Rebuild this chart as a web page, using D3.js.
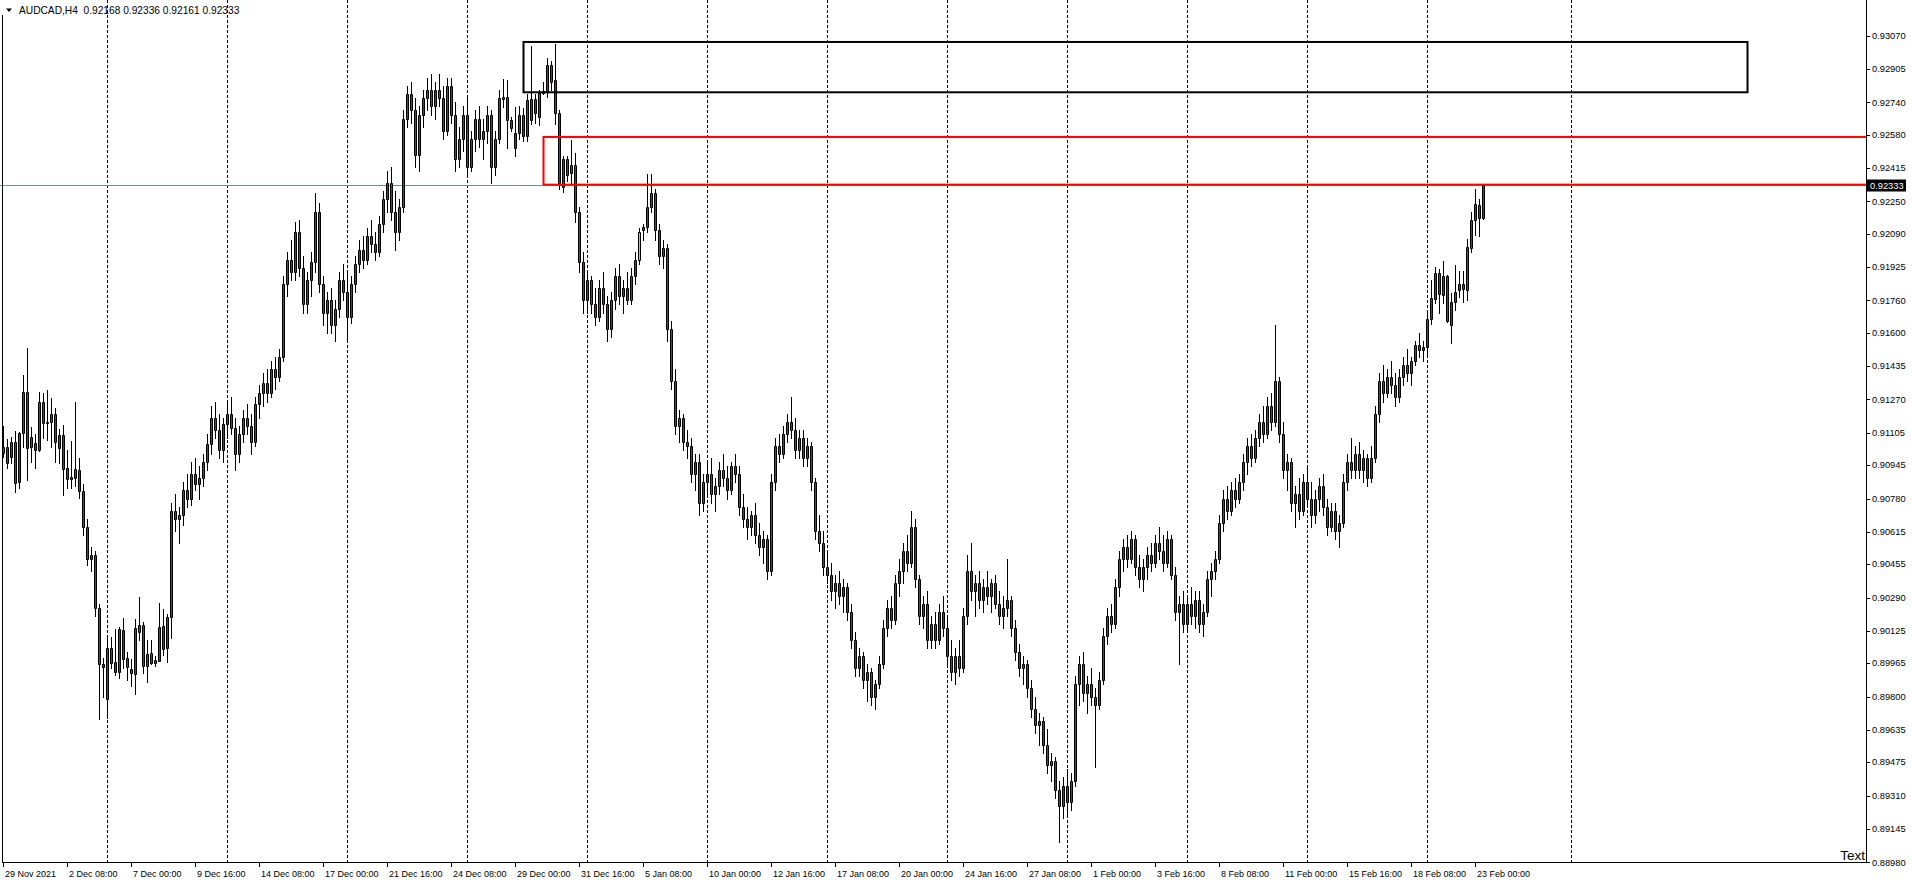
<!DOCTYPE html>
<html><head><meta charset="utf-8">
<script src="https://cdn.jsdelivr.net/npm/d3@7"></script>
<style>body{margin:0;background:#fff}svg{display:block}text{font-family:"Liberation Sans",Arial,sans-serif}</style>
</head><body><svg id="c" width="1912" height="885"></svg>
<script>
// ---- data (prices in points: 91035 = 0.91035) ----
const symbolName = "AUDCAD,H4";
const lastQuote = ["0.92168", "0.92336", "0.92161", "0.92333"];
const bidPrice = 92333;
const priceTicks = [93070,92905,92740,92580,92415,92250,92090,91925,91760,91600,91435,91270,91105,90945,90780,90615,90455,90290,90125,89965,89800,89635,89475,89310,89145,88980];
const timeLabels = ["29 Nov 2021","2 Dec 08:00","7 Dec 00:00","9 Dec 16:00","14 Dec 08:00","17 Dec 00:00","21 Dec 16:00","24 Dec 08:00","29 Dec 00:00","31 Dec 16:00","5 Jan 08:00","10 Jan 00:00","12 Jan 16:00","17 Jan 08:00","20 Jan 00:00","24 Jan 16:00","27 Jan 08:00","1 Feb 00:00","3 Feb 16:00","8 Feb 08:00","11 Feb 00:00","15 Feb 16:00","18 Feb 08:00","23 Feb 00:00"];
const weekSeparators = [26,56,86,116,146,176,206,236,266,296,326,356,392];
const highlightedBars = [159];
// rectangles: [startBar, endBar, high, low]
const blackZone = [130, 436, 93039, 92790];
const redZone = [135, 480, 92569, 92333];

// bars [open, high, low, close]
const week1 = [[91005,91140,90985,91035],[91036,91075,90932,90957],[90987,91086,90956,91061],[91061,91116,90814,90858],[90863,91110,90830,91106],[91106,91391,91036,91309],[91309,91525,90870,91030],[91035,91134,90962,91086],[91055,91100,90932,91020],[91020,91309,91017,91258],[91258,91304,91078,91155],[91155,91317,91070,91160],[91160,91277,91036,91198],[91198,91230,90960,91061],[91028,91124,90956,91094],[91094,91144,90798,90926],[90930,91020,90832,90875],[90875,91064,90832,90888],[90882,91258,90840,90926],[90921,90981,90784,90819],[90819,90850,90600,90640],[90640,90680,90450,90480],[90480,90540,90420,90500],[90500,90520,90200,90240],[90240,90260,89690,89960],[89960,89990,89800,89945]];
const week2 = [[89790,90095,89694,90039],[90039,90095,89940,89968],[89970,90134,89907,89923],[89923,90146,89890,90134],[90129,90189,89940,89986],[89990,90022,89882,89948],[89936,89986,89852,89915],[89912,90184,89813,90138],[90121,90294,90080,90154],[90154,90170,89918,89951],[89951,90080,89873,90009],[90014,90080,89960,89965],[89968,90000,89950,89981],[89978,90262,89975,90143],[90149,90232,90006,90034],[90039,90209,89972,90192],[90192,90760,90090,90720],[90720,90800,90620,90680],[90680,90740,90560,90700],[90700,90860,90650,90820],[90820,90900,90740,90780],[90780,90960,90750,90900],[90900,90980,90820,90850],[90850,90940,90780,90880],[90880,91000,90840,90960],[90960,91100,90920,91050],[91050,91240,91000,91180],[91180,91260,91080,91120],[91120,91200,90980,91020],[91020,91180,90960,91150]];
const week3 = [[91150,91260,91080,91200],[91200,91280,91100,91130],[91130,91180,90920,91000],[91000,91140,90960,91100],[91100,91220,91060,91180],[91180,91250,91100,91140],[91140,91200,91000,91060],[91060,91280,91040,91250],[91250,91340,91180,91300],[91300,91400,91240,91350],[91350,91420,91260,91300],[91300,91460,91280,91420],[91420,91480,91320,91380],[91380,91520,91360,91480],[91480,91880,91460,91840],[91840,92000,91780,91960],[91960,92060,91860,91900],[91900,92150,91860,92100],[92100,92160,91880,91920],[91920,91980,91700,91740],[91740,91900,91700,91860],[91860,92000,91780,91950],[91950,92290,91900,92200],[92200,92240,91800,91840],[91840,91880,91640,91700],[91700,91800,91600,91760],[91760,91820,91600,91640],[91640,91760,91560,91720],[91720,91900,91680,91860],[91860,91940,91760,91800]];
const week4 = [[91800,91900,91560,91680],[91680,91880,91650,91840],[91840,91980,91800,91940],[91940,92060,91900,92010],[92010,92080,91920,91960],[91960,92120,91940,92080],[92080,92160,92000,92040],[92040,92100,91960,92000],[92000,92180,91980,92140],[92140,92300,92100,92260],[92260,92400,92200,92340],[92340,92420,92160,92200],[92200,92300,92010,92100],[92100,92260,92060,92220],[92220,92700,92200,92660],[92660,92820,92620,92780],[92780,92840,92640,92700],[92700,92760,92420,92480],[92480,92720,92400,92680],[92680,92800,92620,92760],[92760,92860,92700,92800],[92800,92880,92680,92720],[92720,92840,92660,92800],[92800,92880,92720,92760],[92760,92820,92560,92600],[92600,92860,92580,92820],[92820,92860,92640,92680],[92680,92740,92400,92460],[92460,92620,92420,92560],[92560,92720,92500,92680]];
const week5 = [[92680,92760,92380,92420],[92420,92600,92400,92560],[92560,92700,92500,92660],[92660,92720,92520,92560],[92560,92660,92460,92600],[92600,92720,92540,92680],[92680,92700,92340,92420],[92420,92600,92380,92560],[92560,92800,92540,92760],[92757,92856,92719,92768],[92768,92851,92514,92653],[92653,92670,92600,92612],[92513,92717,92475,92587],[92587,92720,92560,92678],[92678,92710,92550,92574],[92574,92780,92550,92752],[92653,93019,92633,92757],[92757,92780,92640,92686],[92666,92800,92630,92790],[92788,92840,92780,92796],[92793,92960,92768,92925],[92925,92945,92800,92842],[92851,93029,92633,92686],[92686,92700,92310,92340],[92323,92475,92298,92458],[92458,92475,92350,92381],[92389,92554,92341,92430],[92430,92488,92150,92199],[92199,92220,91900,91950],[91950,92000,91700,91760]];
const week6 = [[91760,91900,91700,91860],[91860,91880,91700,91740],[91740,91820,91640,91680],[91680,91860,91660,91820],[91820,91900,91700,91740],[91740,91780,91560,91620],[91620,91800,91580,91760],[91760,91920,91720,91880],[91880,91940,91740,91780],[91780,91860,91700,91820],[91820,91900,91740,91760],[91760,91920,91740,91880],[91880,92000,91840,91960],[91960,92120,91940,92100],[92107,92140,92060,92122],[92125,92386,92100,92221],[92224,92386,92200,92293],[92290,92310,92060,92108],[92108,92140,91940,91980],[91980,92060,91920,92020],[92020,92040,91560,91620],[91620,91660,91320,91360],[91360,91420,91100,91140],[91140,91220,91060,91180],[91180,91200,91020,91060],[91060,91120,90980,91040],[91040,91080,90860,90900],[90900,91000,90820,90960],[90960,91000,90700,90760],[90760,90900,90720,90860]];
const week7 = [[90860,90960,90800,90900],[90900,90980,90760,90800],[90800,90880,90720,90840],[90840,90960,90800,90920],[90920,91000,90840,90880],[90880,90940,90780,90820],[90820,90960,90800,90940],[90940,91000,90860,90900],[90900,90940,90700,90740],[90740,90800,90640,90680],[90680,90740,90580,90640],[90640,90720,90600,90700],[90700,90760,90560,90600],[90600,90660,90500,90540],[90540,90620,90460,90580],[90580,90600,90380,90420],[90420,90900,90400,90860],[90860,91080,90820,91040],[91040,91100,90960,91000],[91000,91140,90980,91100],[91100,91200,91060,91160],[91160,91280,91080,91120],[91120,91180,90980,91020],[91020,91120,90980,91080],[91080,91120,90940,90980],[90980,91080,90940,91040],[91040,91060,90820,90860],[90860,90880,90580,90620],[90620,90700,90520,90560],[90560,90620,90400,90440]];
const week8 = [[90440,90520,90360,90400],[90400,90460,90280,90320],[90320,90400,90240,90360],[90360,90420,90260,90300],[90300,90380,90220,90340],[90340,90360,90180,90220],[90220,90260,90040,90080],[90080,90120,89900,89940],[89940,90040,89900,90000],[90000,90020,89840,89880],[89880,89960,89780,89920],[89920,89940,89760,89800],[89800,89880,89740,89860],[89860,90000,89840,89960],[89960,90180,89940,90140],[90140,90280,90100,90240],[90240,90300,90140,90180],[90180,90400,90160,90360],[90360,90480,90300,90420],[90420,90560,90360,90520],[90520,90600,90420,90460],[90460,90720,90440,90640],[90640,90680,90340,90380],[90380,90400,90160,90200],[90200,90300,90140,90260],[90260,90320,90040,90080],[90080,90200,90040,90160],[90160,90220,90040,90080],[90080,90260,90060,90220],[90220,90300,90100,90140]];
const week9 = [[90140,90200,89960,90000],[90000,90080,89880,89920],[89920,90040,89860,90000],[90000,90080,89900,89940],[89940,90240,89920,90200],[90200,90500,90160,90420],[90420,90560,90280,90320],[90320,90400,90200,90360],[90360,90420,90240,90280],[90280,90380,90220,90340],[90340,90420,90260,90300],[90300,90380,90220,90360],[90360,90400,90240,90260],[90260,90320,90160,90200],[90200,90300,90140,90240],[90240,90480,90200,90280],[90280,90300,90100,90140],[90140,90180,89980,90020],[90020,90060,89900,89940],[89940,90000,89860,89960],[89960,89980,89800,89840],[89840,89880,89700,89740],[89740,89800,89620,89660],[89660,89720,89560,89680],[89680,89700,89520,89560],[89560,89640,89420,89460],[89460,89520,89380,89480],[89480,89500,89300,89340],[89340,89380,89080,89260],[89260,89400,89200,89360]];
const week10 = [[89360,89440,89220,89280],[89280,89420,89240,89380],[89380,89900,89360,89860],[89860,90000,89760,89960],[89960,90020,89780,89820],[89820,89900,89720,89860],[89860,89940,89760,89800],[89800,89840,89450,89760],[89760,89920,89740,89880],[89880,90140,89860,90100],[90100,90240,90060,90200],[90200,90260,90120,90160],[90160,90380,90140,90340],[90340,90520,90300,90480],[90480,90580,90420,90540],[90540,90600,90440,90480],[90480,90620,90460,90580],[90580,90600,90400,90440],[90440,90500,90340,90380],[90380,90480,90320,90440],[90440,90540,90380,90500],[90500,90560,90420,90460],[90460,90600,90440,90560],[90560,90640,90480,90520],[90520,90600,90420,90460],[90460,90620,90440,90580],[90580,90600,90380,90400],[90400,90440,90180,90220],[90220,90300,89960,90260],[90260,90320,90120,90160]];
const week11 = [[90160,90300,90120,90260],[90260,90340,90160,90200],[90200,90320,90140,90280],[90280,90320,90120,90160],[90160,90260,90100,90220],[90220,90420,90200,90380],[90380,90460,90300,90420],[90420,90520,90380,90480],[90480,90700,90460,90660],[90660,90820,90620,90780],[90780,90840,90680,90720],[90720,90860,90700,90820],[90820,90880,90740,90780],[90780,90900,90760,90860],[90860,91000,90820,90960],[90960,91080,90900,91040],[91040,91100,90940,90980],[90980,91120,90960,91080],[91080,91200,91040,91160],[91160,91240,91060,91100],[91100,91280,91080,91240],[91240,91300,91120,91160],[91160,91640,91140,91360],[91360,91380,91060,91100],[91100,91160,90880,90920],[90920,91000,90820,90960],[90960,90980,90720,90760],[90760,90840,90640,90800],[90800,90880,90680,90720],[90720,90900,90700,90860]];
const week12 = [[90860,90940,90740,90780],[90780,90860,90640,90700],[90700,90820,90660,90780],[90780,90880,90720,90840],[90840,90900,90700,90740],[90740,90780,90600,90640],[90640,90760,90620,90720],[90720,90760,90580,90620],[90620,90700,90540,90660],[90660,90900,90640,90860],[90860,91000,90820,90960],[90960,91080,90880,90920],[90920,91040,90880,91000],[91000,91060,90880,90920],[90920,91020,90860,90980],[90980,91000,90840,90880],[90880,91040,90860,90980],[90980,91240,90960,91200],[91200,91400,91160,91360],[91360,91440,91260,91300],[91300,91420,91280,91380],[91380,91460,91300,91340],[91340,91400,91240,91280],[91280,91420,91260,91380],[91380,91480,91340,91440],[91440,91520,91360,91400],[91400,91480,91340,91460],[91460,91560,91440,91540],[91540,91600,91480,91515],[91515,91560,91460,91530]];
const week13 = [[91530,91700,91480,91667],[91667,91862,91642,91771],[91767,91924,91746,91894],[91894,91914,91700,91792],[91881,91957,91746,91787],[91881,91886,91655,91660],[91639,91798,91548,91751],[91751,91935,91713,91803],[91812,91907,91779,91840],[91840,91907,91752,91815],[91812,92063,91762,92023],[92018,92199,92001,92158],[92158,92310,92084,92237],[92232,92260,92079,92170],[92168,92336,92161,92333]];

const bars = [].concat(week1, week2, week3, week4, week5, week6, week7, week8, week9, week10, week11, week12, week13);

// ---- layout ----
const plotRight = 1866, plotBottom = 862;
const svg = d3.select("#c");
svg.append("rect").attr("width",1912).attr("height",885).attr("fill","#fff");
svg.append("defs").append("clipPath").attr("id","clip").append("rect")
  .attr("x",0).attr("y",0).attr("width",plotRight).attr("height",plotBottom);

const x = d3.scaleLinear().domain([0, 370]).range([3, 1483]);   // left pixel column of each bar
const y = d3.scaleLinear().domain([88980, 93070]).range([862.3, 35.7]);
const py = v => Math.round(y(v)) + 0.5;

const plot = svg.append("g").attr("clip-path","url(#clip)");

// week separators
plot.selectAll("line.sep").data(weekSeparators).join("line")
  .attr("x1", d => x(d)+0.5).attr("x2", d => x(d)+0.5)
  .attr("y1", 0).attr("y2", plotBottom)
  .attr("stroke","#000").attr("stroke-width",1).attr("stroke-dasharray","3,2")
  .attr("shape-rendering","crispEdges");

// bid line
plot.append("line").attr("x1",0).attr("x2",plotRight).attr("y1",py(bidPrice)).attr("y2",py(bidPrice))
  .attr("stroke","#778899").attr("stroke-width",1).attr("shape-rendering","crispEdges");

// candles
const cg = plot.selectAll("g.cdl").data(bars).join("g").attr("class","cdl");
cg.append("line")
  .attr("x1",(d,i)=>x(i)+0.5).attr("x2",(d,i)=>x(i)+0.5)
  .attr("y1",d=>Math.round(y(d[1]))).attr("y2",d=>Math.round(y(d[2]))+1)
  .attr("stroke","#000").attr("shape-rendering","crispEdges");
cg.append("path")
  .attr("d",(d,i)=>{
    const t = py(Math.max(d[0],d[3])), b = py(Math.min(d[0],d[3]));
    const l = x(i)-0.5;
    return `M${l},${t}H${l+2}V${b}H${l}Z`;
  })
  .attr("fill",(d,i)=> highlightedBars.includes(i) ? "#66ff33" : (d[3]>=d[0] ? "#008000" : "#ff0000"))
  .attr("stroke","#000").attr("stroke-width",1);

// zones
function zone(z, color){
  const x0 = x(z[0])+0.5, x1 = x(z[1])+0.5;
  const y0 = y(z[2]), y1 = y(z[3]);
  plot.append("rect").attr("x",x0).attr("y",y0).attr("width",x1-x0).attr("height",y1-y0)
    .attr("fill","none").attr("stroke",color).attr("stroke-width",2);
}
zone(blackZone,"#000");
zone(redZone,"#ff0000");

// frame
svg.append("line").attr("x1",2.5).attr("x2",2.5).attr("y1",15).attr("y2",plotBottom+0.5).attr("stroke","#000");
svg.append("line").attr("x1",plotRight+0.5).attr("x2",plotRight+0.5).attr("y1",0).attr("y2",plotBottom+0.5).attr("stroke","#000");
svg.append("line").attr("x1",2).attr("x2",plotRight+1).attr("y1",plotBottom+0.5).attr("y2",plotBottom+0.5).attr("stroke","#000");

// price axis
const pa = svg.append("g");
pa.selectAll("line").data(priceTicks).join("line")
  .attr("x1",plotRight+1).attr("x2",plotRight+4)
  .attr("y1",d=>py(d)).attr("y2",d=>py(d)).attr("stroke","#000").attr("shape-rendering","crispEdges");
pa.selectAll("text").data(priceTicks).join("text")
  .attr("x",plotRight+6).attr("y",d=>y(d)+3.2)
  .attr("font-size","9.3px").attr("fill","#000")
  .text(d=>(d/1e5).toFixed(5));

// current price label
const cy = py(bidPrice);
svg.append("rect").attr("x",plotRight+1).attr("y",cy-6).attr("width",39).attr("height",12).attr("fill","#000");
svg.append("text").attr("x",plotRight+4).attr("y",cy+3.5).attr("font-size","9.3px").attr("fill","#fff")
  .text((bidPrice/1e5).toFixed(5));

// time axis
const ta = svg.append("g");
ta.selectAll("line").data(timeLabels).join("line")
  .attr("x1",(d,k)=>x(16*k)+0.5).attr("x2",(d,k)=>x(16*k)+0.5)
  .attr("y1",plotBottom+1).attr("y2",plotBottom+5).attr("stroke","#000").attr("shape-rendering","crispEdges");
ta.selectAll("text").data(timeLabels).join("text")
  .attr("x",(d,k)=>x(16*k)+2).attr("y",plotBottom+15)
  .attr("font-size","9px").attr("fill","#000").text(d=>d);

// title
svg.append("path").attr("d","M6,8.5 L12,8.5 L9,12 Z").attr("fill","#000");
svg.append("text").attr("x",19).attr("y",14).attr("font-size","10.2px").attr("fill","#000")
  .attr("xml:space","preserve").style("white-space","pre")
  .text(symbolName + "  " + lastQuote.join(" "));

// text object
svg.append("text").attr("x",plotRight-1).attr("y",plotBottom-2).attr("text-anchor","end")
  .attr("font-size","13.5px").attr("fill","#000").text("Text");
</script></body></html>
